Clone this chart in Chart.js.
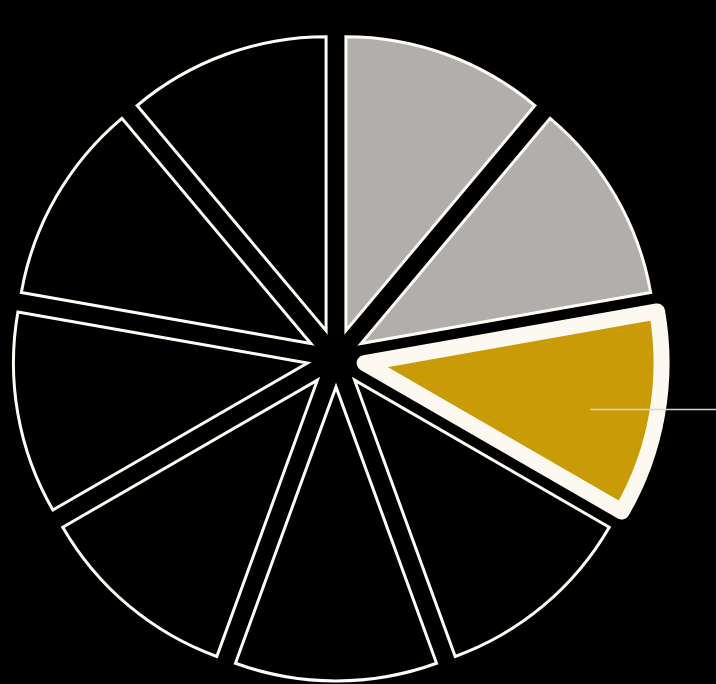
<!DOCTYPE html>
<html>
<head>
<meta charset="utf-8">
<script src="https://cdn.jsdelivr.net/npm/chart.js@4/dist/chart.umd.min.js"></script>
<style>
  html, body { margin: 0; padding: 0; background: #000; overflow: hidden; }
  #wrap { width: 716px; height: 684px; }
</style>
</head>
<body>
<div id="wrap"><canvas id="pie-chart"></canvas></div>
<script>
Chart.defaults.font.family = 'Noto Sans, sans-serif'

const labels = ['1', '2', '3', '4', '5', '6', '7', '8', '9']
const values = [1, 1, 1, 1, 1, 1, 1, 1, 1]
const fills = ['#b1aeac', '#b1aeac', '#c99c07', '#000000', '#000000', '#000000', '#000000', '#000000', '#000000']
const highlight = 2

const lineColor = '#d9d3c9'
const explode = 29      // how far every slice is pushed out from the middle
const highlightGrow = 3 // the picked slice is a bit bigger

// push every slice outwards along its middle angle (exploded pie)
const explodeSlices = {
  id: 'explodeSlices',
  afterDatasetsUpdate(chart) {
    chart.getDatasetMeta(0).data.forEach((arc, i) => {
      const mid = (arc.startAngle + arc.endAngle) / 2
      arc.x += Math.cos(mid) * explode
      arc.y += Math.sin(mid) * explode
      if (i === highlight) arc.outerRadius += highlightGrow
    })
  }
}

// thin leader line coming out of the highlighted slice
const leaderLine = {
  id: 'leaderLine',
  afterDatasetsDraw(chart) {
    const arc = chart.getDatasetMeta(0).data[highlight]
    const ang = (arc.startAngle + arc.endAngle) / 2 + 0.028
    const r = arc.outerRadius * 0.776
    const x0 = arc.x + Math.cos(ang) * r
    const y0 = arc.y + Math.sin(ang) * r
    const ctx = chart.ctx
    ctx.save()
    ctx.strokeStyle = lineColor
    ctx.lineWidth = 1.5
    ctx.beginPath()
    ctx.moveTo(x0, y0)
    ctx.lineTo(chart.width, y0)
    ctx.stroke()
    ctx.restore()
  }
}

const ctxPIE = document.getElementById('pie-chart')
const pieChart = new Chart(ctxPIE, {
  type: 'pie',
  data: {
    labels: labels,
    datasets: [{
      data: values,
      backgroundColor: fills,
      borderColor: values.map((v, i) => i === highlight ? '#fdf9f1' : '#fffcf5'),
      borderWidth: values.map((v, i) => i === highlight ? 16 : 3),
      borderJoinStyle: values.map((v, i) => i === highlight ? 'round' : 'miter'),
      radius: 294
    }]
  },
  options: {
    responsive: true,
    maintainAspectRatio: false,
    animation: false,
    layout: { padding: { left: 0, right: 44, top: 32, bottom: 0 } },
    plugins: {
      legend: { display: false },
      tooltip: { enabled: false }
    }
  },
  plugins: [explodeSlices, leaderLine]
})
</script>
</body>
</html>
